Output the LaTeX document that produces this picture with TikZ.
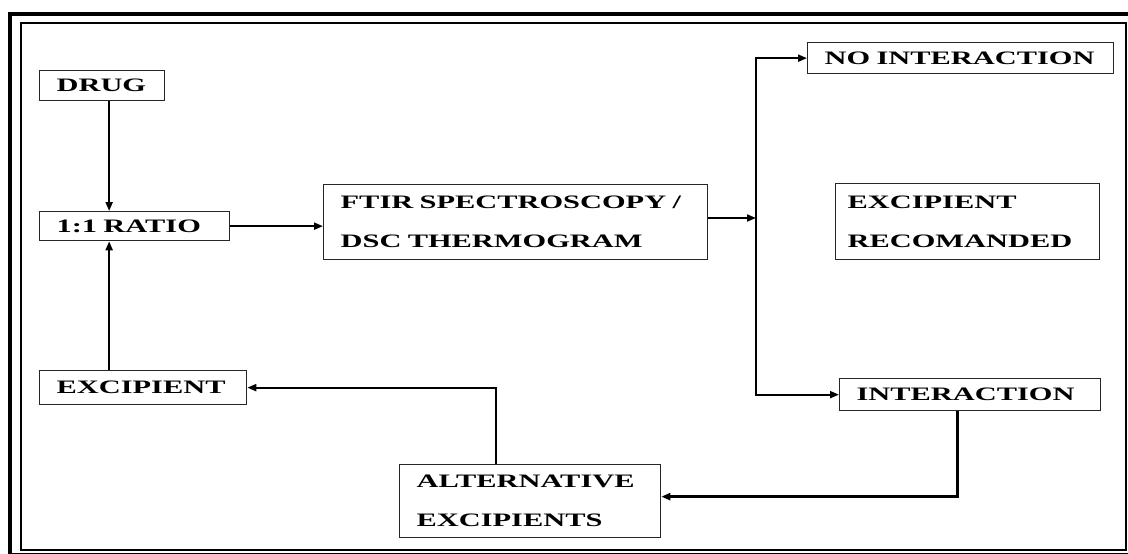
\documentclass[tikz,border=0pt]{standalone}
\usepackage{fontspec}
\usetikzlibrary{arrows.meta, positioning, calc}
\newfontfamily\labelfont{Liberation Serif}[FakeStretch=1.6]
\tikzset{
    flowbox/.style={
        rectangle,
        draw=black!85,
        line width=1.3pt,
        fill=white,
        anchor=north west,
        align=left,
        inner xsep=17pt,
        inner ysep=0pt,
        font=\labelfont\bfseries\fontsize{19}{39}\selectfont
    },
    arrow/.style={
        -{Triangle[length=9pt, width=7pt]},
        line width=2pt,
        color=black
    }
}
\begin{document}
\begin{tikzpicture}[x=1pt, y=-1pt]
    \useasboundingbox (0,0) rectangle (1128,554);
    % frame
    \draw[line width=4pt] (10,14) rectangle (1140,555);
    \draw[line width=1.8pt] (21,23) rectangle (1126,550);

    \node[flowbox, text width=91pt, minimum height=30pt] (drug) at (39,70) {DRUG};
    \node[flowbox, text width=156pt, minimum height=29pt] (ratio) at (39,211) {1:1 RATIO};
    \node[flowbox, text width=173pt, minimum height=34pt] (excip) at (39,370) {EXCIPIENT};
    \node[flowbox, text width=350pt, minimum height=75pt] (ftir) at (323,184) {FTIR SPECTROSCOPY /\\DSC THERMOGRAM};
    \node[flowbox, text width=272pt, minimum height=31pt] (noint) at (807,42) {NO INTERACTION};
    \node[flowbox, inner xsep=12pt, text width=240pt, minimum height=76pt] (recom) at (835,183) {EXCIPIENT\\RECOMANDED};
    \node[flowbox, text width=227pt, minimum height=32pt] (inter) at (839,378) {INTERACTION};
    \node[flowbox, text width=227pt, minimum height=73pt] (alt) at (399,464) {ALTERNATIVE\\EXCIPIENTS};

    \coordinate (split) at (756,218);

    \draw[arrow] ([xshift=7pt]drug.south) -- ([xshift=7pt]drug.south |- ratio.north);
    \draw[arrow] ([xshift=7pt]drug.south |- excip.north) -- ([xshift=7pt]drug.south |- ratio.south);
    \draw[arrow] (ratio.east) -- (ratio.east -| ftir.west);
    \draw[arrow] (ftir.east |- split) -- (split);
    \draw[arrow] (split) |- (noint.west);
    \draw[arrow] (split) |- (inter.west);
    \draw[arrow, line width=2.5pt] ([xshift=-12.5pt]inter.south) |- ([yshift=4.5pt]alt.east);
    \draw[arrow] ([xshift=-34.5pt]alt.north) |- (excip.east);
\end{tikzpicture}
\end{document}
